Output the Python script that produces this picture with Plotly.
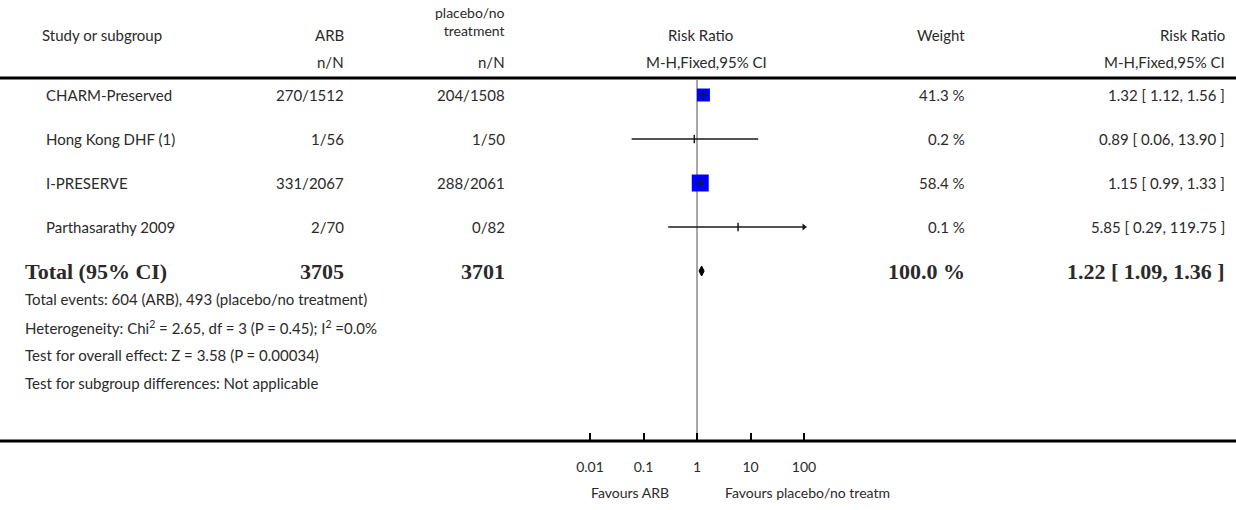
import numpy as np
import plotly.graph_objects as go

# ---- data -------------------------------------------------------------
studies = ["CHARM-Preserved", "Hong Kong DHF (1)", "I-PRESERVE", "Parthasarathy 2009"]
arb_events = [270, 1, 331, 2]
arb_total = [1512, 56, 2067, 70]
ctl_events = [204, 1, 288, 0]
ctl_total = [1508, 50, 2061, 82]
rr = [1.32, 0.89, 1.15, 5.85]
rr_lo = [1.12, 0.06, 0.99, 0.29]
rr_hi = [1.56, 13.90, 1.33, 119.75]
weights = [41.3, 0.2, 58.4, 0.1]

total_arb = 3705
total_ctl = 3701
total_rr = 1.22
total_lo = 1.09
total_hi = 1.36
total_weight = 100.0

tick_vals = [0.01, 0.1, 1, 10, 100]
tick_text = ["0.01", "0.1", "1", "10", "100"]

footer_lines = [
    "Total events: 604 (ARB), 493 (placebo/no treatment)",
    "Heterogeneity: Chi<sup>2</sup> = 2.65, df = 3 (P = 0.45); I<sup>2</sup> =0.0%",
    "Test for overall effect: Z = 3.58 (P = 0.00034)",
    "Test for subgroup differences: Not applicable",
]

# ---- layout constants (pixels) ----------------------------------------
W, H = 1236, 510
X_MIN, X_MAX = 0.01, 100
PX_PER_DECADE = 53.5
X_ONE = 697                      # pixel position of RR = 1
PAD = 0.03                       # extra decades so end ticks are not clipped
FONT = "Lato"
SERIF = "Liberation Serif"
TXT = "#2a2a2a"
FS = 15
FS_BOLD = 22

col_name = 44
col_arb = 346
col_ctl = 507
col_weight = 967
col_rr = 1227

row0 = 95
row_step = 44
row_y = [row0 + row_step * i for i in range(len(studies))]
total_y = row0 + row_step * len(studies)
footer_y = [total_y + 28 * (i + 1) for i in range(len(footer_lines))]
axis_y = 441
header_line_y = 78

lo_dec = np.log10(X_MIN) - PAD
hi_dec = np.log10(X_MAX) + PAD
dom0 = (X_ONE + lo_dec * PX_PER_DECADE) / W
dom1 = (X_ONE + hi_dec * PX_PER_DECADE) / W


def px(x):
    return x / W


fig = go.Figure()

# line of no effect
fig.add_trace(go.Scatter(x=[1, 1], y=[header_line_y + 2, axis_y], mode="lines",
                         line=dict(color="#a8a8a8", width=2), hoverinfo="skip"))

# study squares, sized by weight
sizes = [0.726 * w ** 0.775 for w in weights]
fig.add_trace(go.Scatter(x=rr, y=row_y, mode="markers",
                         marker=dict(symbol="square", size=sizes, color="#0000ff",
                                     opacity=1, line=dict(width=0)),
                         cliponaxis=False, hoverinfo="skip"))

# confidence intervals
for y, lo, hi in zip(row_y, rr_lo, rr_hi):
    lo_c = max(lo, X_MIN)
    hi_c = min(hi, X_MAX)
    fig.add_trace(go.Scatter(x=[lo_c, hi_c], y=[y, y], mode="lines",
                             line=dict(color="#1a1a1a", width=1.5), hoverinfo="skip"))
    if hi > X_MAX:
        fig.add_trace(go.Scatter(x=[X_MAX], y=[y], mode="markers",
                                 marker=dict(symbol="triangle-right", size=6,
                                             color="#1a1a1a", opacity=1),
                                 cliponaxis=False, hoverinfo="skip"))
    if lo < X_MIN:
        fig.add_trace(go.Scatter(x=[X_MIN], y=[y], mode="markers",
                                 marker=dict(symbol="triangle-left", size=6,
                                             color="#1a1a1a", opacity=1),
                                 cliponaxis=False, hoverinfo="skip"))

# point estimate ticks
fig.add_trace(go.Scatter(x=rr, y=row_y, mode="markers",
                         marker=dict(symbol="line-ns", size=6, opacity=1,
                                     line=dict(width=1.5, color="#1a1a1a")),
                         cliponaxis=False, hoverinfo="skip"))

# pooled estimate diamond
dh = 5
fig.add_trace(go.Scatter(x=[total_lo, total_rr, total_hi, total_rr, total_lo],
                         y=[total_y, total_y - dh, total_y, total_y + dh, total_y],
                         mode="lines", fill="toself", fillcolor="#000000",
                         line=dict(color="#000000", width=1), hoverinfo="skip"))

# ---- text -------------------------------------------------------------
ann = []


def text(x, y, s, anchor="left", size=FS, family=FONT, color=TXT, bold=False):
    if bold:
        s = "<b>" + s + "</b>"
    ann.append(dict(x=px(x), y=y, xref="paper", yref="y", text=s, showarrow=False,
                    xanchor=anchor, yanchor="middle", align=anchor,
                    font=dict(family=family, size=size, color=color)))


# headers
text(40, 35, "Study or subgroup")
text(col_arb, 35, "ARB", "right")
ann.append(dict(x=px(col_ctl), y=21, xref="paper", yref="y",
                text="placebo/no<br>treatment", showarrow=False, xanchor="right",
                yanchor="middle", align="right",
                font=dict(family=FONT, size=14, color=TXT)))
text(700, 35, "Risk Ratio", "center")
text(col_weight, 35, "Weight", "right")
text(col_rr, 35, "Risk Ratio", "right")
text(col_arb, 62, "n/N", "right")
text(col_ctl, 62, "n/N", "right")
text(706, 62, "M-H,Fixed,95% CI", "center")
text(col_rr, 62, "M-H,Fixed,95% CI", "right")

# study rows
for i, name in enumerate(studies):
    y = row_y[i]
    text(col_name, y, name)
    text(col_arb, y, f"{arb_events[i]}/{arb_total[i]}", "right")
    text(col_ctl, y, f"{ctl_events[i]}/{ctl_total[i]}", "right")
    text(col_weight, y, f"{weights[i]:.1f} %", "right")
    text(col_rr, y, f"{rr[i]:.2f} [ {rr_lo[i]:.2f}, {rr_hi[i]:.2f} ]", "right")

# total row
text(23, total_y, "Total (95% CI)", size=FS_BOLD, family=SERIF, bold=True)
text(col_arb, total_y, f"{total_arb}", "right", size=FS_BOLD, family=SERIF, bold=True)
text(col_ctl, total_y, f"{total_ctl}", "right", size=FS_BOLD, family=SERIF, bold=True)
text(col_weight, total_y, f"{total_weight:.1f} %", "right", size=FS_BOLD, family=SERIF, bold=True)
text(col_rr, total_y, f"{total_rr:.2f} [ {total_lo:.2f}, {total_hi:.2f} ]", "right",
     size=FS_BOLD, family=SERIF, bold=True)

for y, s in zip(footer_y, footer_lines):
    text(23, y, s)

# favours labels
text(671, 492, "Favours ARB", "right", size=14)
text(723, 492, "Favours placebo/no treatm", "left", size=14)

fig.update_layout(
    width=W, height=H, autosize=False,
    margin=dict(l=0, r=0, t=0, b=0, pad=0, autoexpand=False),
    paper_bgcolor="white", plot_bgcolor="white",
    showlegend=False,
    annotations=ann,
    shapes=[
        dict(type="line", xref="paper", yref="y", x0=0, x1=1,
             y0=header_line_y, y1=header_line_y, line=dict(color="black", width=3)),
        dict(type="line", xref="paper", yref="y", x0=0, x1=1,
             y0=axis_y, y1=axis_y, line=dict(color="black", width=3)),
    ],
    xaxis=dict(type="log", range=[lo_dec, hi_dec], automargin=False,
               domain=[dom0, dom1], anchor="free", position=1 - axis_y / H,
               tickvals=tick_vals, ticktext=tick_text, ticks="inside", ticklen=8,
               tickwidth=2, tickcolor="black", showgrid=False, zeroline=False,
               showline=False, ticklabelstandoff=16,
               tickfont=dict(family=FONT, size=14, color=TXT)),
    yaxis=dict(range=[H, 0], domain=[0, 1], visible=False, showgrid=False,
               automargin=False),
)

fig.write_html("out.html")
